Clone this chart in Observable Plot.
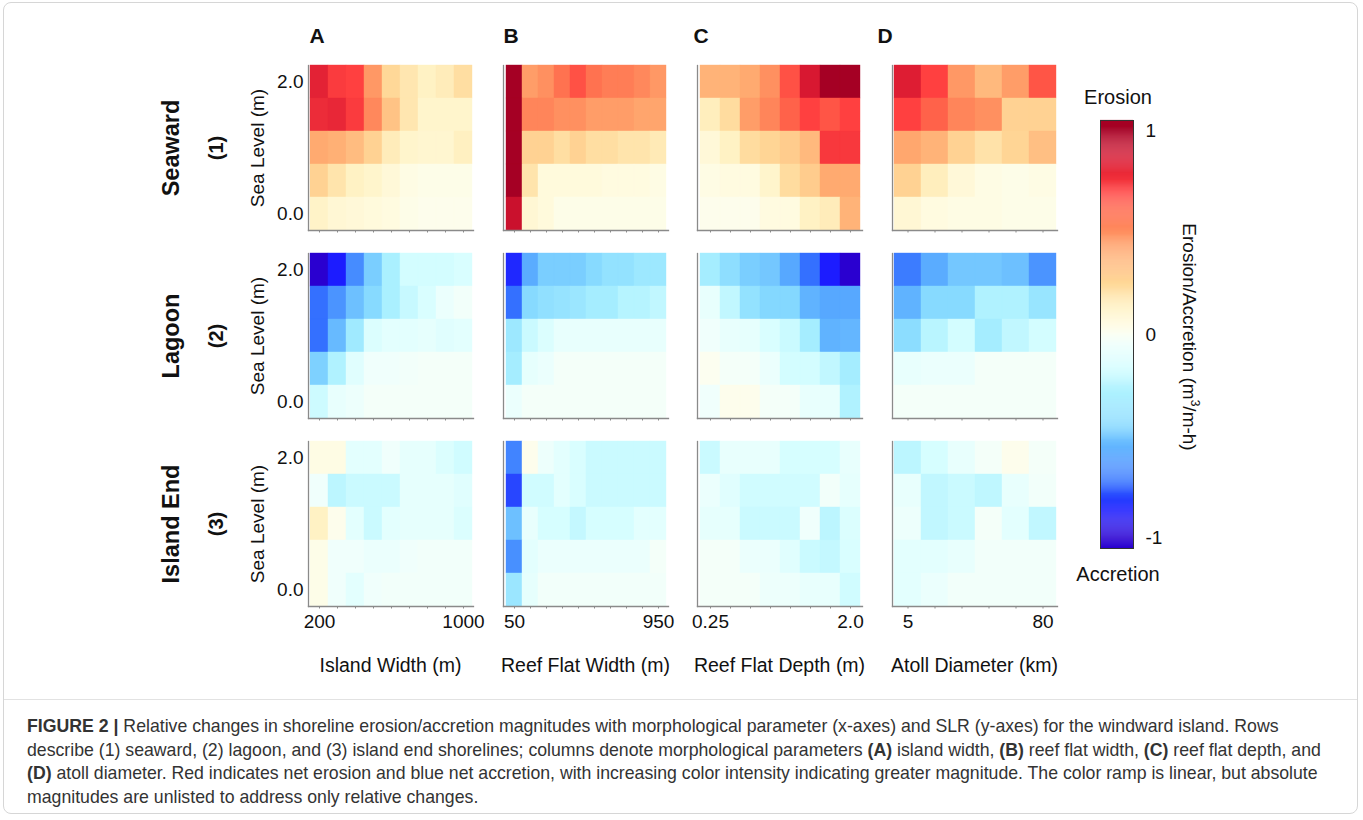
<!DOCTYPE html>
<html>
<head>
<meta charset="utf-8">
<script src="https://cdn.jsdelivr.net/npm/d3@7"></script>
<script src="https://cdn.jsdelivr.net/npm/@observablehq/plot@0.6"></script>
<style>
  html, body { margin: 0; padding: 0; background: #fff; }
  #fig { position: relative; width: 1363px; height: 820px; overflow: hidden; font-family: "Liberation Sans", Arial, sans-serif; color: #111; }
  .abs { position: absolute; white-space: nowrap; }
  .rot { transform: translate(-50%, -50%) rotate(-90deg); }
  .rot90 { transform: translate(-50%, -50%) rotate(90deg); }
  .ctr { transform: translate(-50%, -50%); }
  #border { position: absolute; left: 3px; top: 2px; width: 1355px; height: 812px; border: 1px solid #d6d6d6; border-radius: 8px; box-sizing: border-box; }
  #sep { position: absolute; left: 4px; top: 699px; width: 1353px; height: 0; border-top: 1px solid #e2e2e2; }
  #caption { position: absolute; left: 27px; top: 715px; font-family: "Liberation Sans", Arial, sans-serif; font-size: 17.7px; line-height: 23.5px; color: #333; white-space: nowrap; }
</style>
</head>
<body>
<div id="fig">
  <div id="border"></div>
  <div id="sep"></div>
</div>
<script>
// ---------------- data ----------------
const seaLevels = [2.0, 1.5, 1.0, 0.5, 0.0]; // rows, top to bottom
const islandWidth = [200, 300, 400, 500, 600, 700, 800, 900, 1000];
const reefFlatWidth = [50, 150, 250, 350, 450, 550, 650, 750, 850, 950];
const reefFlatDepth = [0.25, 0.5, 0.75, 1.0, 1.25, 1.5, 1.75, 2.0];
const atollDiameter = [5, 10, 20, 40, 60, 80];
const colLetters = ["A", "B", "C", "D"];
const colTitles = ["Island Width (m)", "Reef Flat Width (m)", "Reef Flat Depth (m)", "Atoll Diameter (km)"];
const rowNames = ["Seaward", "Lagoon", "Island End"];
const rowNums = ["(1)", "(2)", "(3)"];
const xTickLabels = [["200", "1000"], ["50", "950"], ["0.25", "2.0"], ["5", "80"]];
const cbTicks = [1, 0, -1];

// relative erosion (+) / accretion (-), rows = seaLevels
const seawardA = [
  [0.82, 0.72, 0.70, 0.47, 0.25, 0.18, 0.12, 0.15, 0.22],
  [0.78, 0.80, 0.72, 0.52, 0.32, 0.18, 0.10, 0.10, 0.10],
  [0.40, 0.38, 0.34, 0.27, 0.15, 0.10, 0.09, 0.09, 0.13],
  [0.27, 0.19, 0.12, 0.10, 0.07, 0.04, 0.03, 0.03, 0.03],
  [0.11, 0.08, 0.07, 0.06, 0.05, 0.03, 0.02, 0.02, 0.02]
];
const seawardB = [
  [1.00, 0.45, 0.50, 0.58, 0.66, 0.58, 0.55, 0.55, 0.52, 0.47],
  [1.00, 0.53, 0.53, 0.50, 0.50, 0.45, 0.45, 0.45, 0.42, 0.42],
  [1.00, 0.27, 0.27, 0.22, 0.27, 0.22, 0.22, 0.19, 0.19, 0.16],
  [1.00, 0.19, 0.06, 0.06, 0.06, 0.06, 0.05, 0.05, 0.05, 0.04],
  [0.90, 0.08, 0.06, 0.03, 0.03, 0.03, 0.03, 0.03, 0.03, 0.03]
];
const seawardC = [
  [0.37, 0.37, 0.40, 0.50, 0.66, 0.86, 1.00, 1.00],
  [0.14, 0.23, 0.45, 0.53, 0.62, 0.70, 0.65, 0.70],
  [0.07, 0.12, 0.23, 0.26, 0.29, 0.35, 0.73, 0.73],
  [0.04, 0.05, 0.05, 0.10, 0.23, 0.29, 0.40, 0.40],
  [0.02, 0.02, 0.02, 0.05, 0.05, 0.12, 0.15, 0.37]
];
const seawardD = [
  [0.84, 0.70, 0.47, 0.35, 0.45, 0.65],
  [0.70, 0.62, 0.53, 0.50, 0.27, 0.27],
  [0.41, 0.37, 0.27, 0.20, 0.26, 0.33],
  [0.27, 0.14, 0.07, 0.04, 0.03, 0.04],
  [0.08, 0.05, 0.04, 0.04, 0.03, 0.03]
];
const lagoonA = [
  [-1.00, -0.87, -0.66, -0.48, -0.30, -0.16, -0.16, -0.16, -0.14],
  [-0.73, -0.64, -0.52, -0.44, -0.30, -0.20, -0.14, -0.07, -0.04],
  [-0.73, -0.54, -0.34, -0.13, -0.10, -0.10, -0.09, -0.11, -0.10],
  [-0.47, -0.28, -0.11, -0.05, -0.05, -0.04, -0.03, -0.03, -0.03],
  [-0.18, -0.08, -0.06, -0.03, -0.03, -0.03, -0.03, -0.03, -0.03]
];
const lagoonB = [
  [-0.85, -0.58, -0.48, -0.48, -0.48, -0.44, -0.39, -0.39, -0.35, -0.35],
  [-0.73, -0.44, -0.40, -0.38, -0.36, -0.32, -0.32, -0.26, -0.26, -0.22],
  [-0.35, -0.19, -0.13, -0.08, -0.08, -0.08, -0.08, -0.08, -0.08, -0.08],
  [-0.32, -0.09, -0.07, -0.03, -0.03, -0.03, -0.03, -0.03, -0.03, -0.03],
  [-0.07, -0.03, -0.03, -0.03, -0.03, -0.03, -0.03, -0.03, -0.03, -0.03]
];
const lagoonC = [
  [-0.32, -0.41, -0.48, -0.50, -0.59, -0.73, -0.87, -1.00],
  [-0.08, -0.22, -0.39, -0.45, -0.45, -0.56, -0.59, -0.59],
  [-0.05, -0.08, -0.09, -0.14, -0.19, -0.32, -0.56, -0.55],
  [0.01, -0.03, -0.03, -0.07, -0.16, -0.16, -0.22, -0.32],
  [-0.05, 0.02, 0.02, -0.03, -0.03, -0.08, -0.08, -0.28]
];
const lagoonD = [
  [-0.70, -0.58, -0.50, -0.50, -0.52, -0.64],
  [-0.56, -0.44, -0.44, -0.28, -0.28, -0.37],
  [-0.42, -0.25, -0.16, -0.32, -0.22, -0.16],
  [-0.08, -0.07, -0.07, -0.03, -0.03, -0.03],
  [-0.03, -0.03, -0.03, -0.03, -0.03, -0.03]
];
const islandEndA = [
  [0.04, 0.04, -0.10, -0.10, -0.05, -0.09, -0.09, -0.13, -0.17],
  [-0.05, -0.24, -0.19, -0.19, -0.19, -0.09, -0.09, -0.09, -0.11],
  [0.12, 0.02, -0.10, -0.19, -0.10, -0.09, -0.09, -0.09, -0.13],
  [0.03, -0.05, -0.05, -0.07, -0.07, -0.05, -0.04, -0.04, -0.04],
  [0.03, -0.05, -0.10, -0.05, -0.04, -0.04, -0.04, -0.04, -0.04]
];
const islandEndB = [
  [-0.68, 0.02, -0.06, -0.10, -0.14, -0.19, -0.19, -0.19, -0.19, -0.19],
  [-0.80, -0.17, -0.17, -0.10, -0.14, -0.19, -0.19, -0.19, -0.19, -0.19],
  [-0.52, -0.08, -0.15, -0.15, -0.21, -0.15, -0.15, -0.15, -0.10, -0.10],
  [-0.65, -0.10, -0.07, -0.07, -0.07, -0.07, -0.07, -0.07, -0.07, -0.03],
  [-0.36, -0.09, -0.04, -0.04, -0.04, -0.04, -0.04, -0.04, -0.04, -0.04]
];
const islandEndC = [
  [-0.19, -0.08, -0.08, -0.08, -0.15, -0.15, -0.15, -0.08],
  [-0.07, -0.11, -0.17, -0.17, -0.17, -0.17, -0.04, -0.09],
  [-0.09, -0.09, -0.19, -0.19, -0.19, -0.05, -0.24, -0.13],
  [-0.03, -0.03, -0.07, -0.07, -0.11, -0.19, -0.21, -0.14],
  [-0.03, -0.03, -0.03, -0.06, -0.06, -0.08, -0.08, -0.17]
];
const islandEndD = [
  [-0.24, -0.15, -0.08, -0.03, 0.02, -0.03],
  [-0.08, -0.22, -0.19, -0.23, -0.08, -0.04],
  [-0.06, -0.22, -0.19, -0.03, -0.10, -0.22],
  [-0.10, -0.10, -0.08, -0.04, -0.04, -0.04],
  [-0.10, -0.07, -0.04, -0.04, -0.04, -0.04]
];

// diverging colour ramp (blue = accretion, red = erosion)
const rampDomain = [-1.0, -0.87, -0.73, -0.58, -0.45, -0.3, -0.15, -0.05, 0, 0.05, 0.12, 0.25, 0.4, 0.5, 0.6, 0.7, 0.85, 1.0];
const rampColors = ["#2a00d0", "#1c1cff", "#3470ff", "#5aacff", "#84d8ff", "#aaf0ff", "#d6feff", "#f0fffc", "#fbfff4", "#fffbe0", "#fff2c4", "#ffd898", "#ffaa70", "#ff9060", "#ff6a4c", "#ff4040", "#dc1a32", "#a50024"];

// ---------------- layout ----------------
const panelLeft = [308, 503, 697, 892];
const panelTop = [65, 253, 441];
const PW = 165, PH = 165;
const grid = [
  [seawardA, seawardB, seawardC, seawardD],
  [lagoonA, lagoonB, lagoonC, lagoonD],
  [islandEndA, islandEndB, islandEndC, islandEndD]
];
const xCats = [islandWidth, reefFlatWidth, reefFlatDepth, atollDiameter];

const fig = document.getElementById("fig");
const colorOpts = { type: "linear", domain: rampDomain, range: rampColors, clamp: true };
const FONT = "'Liberation Sans', Arial, sans-serif";

function addAbs(el, left, top) {
  el.style.position = "absolute";
  el.style.left = left + "px";
  el.style.top = top + "px";
  fig.appendChild(el);
}
function addText(text, x, y, cls, css) {
  const d = document.createElement("div");
  d.className = "abs " + cls;
  d.innerHTML = text;
  d.style.left = x + "px";
  d.style.top = y + "px";
  Object.assign(d.style, css || {});
  fig.appendChild(d);
}

const ML = 50, MR = 30, MT = 4, MB = 40;
for (let r = 0; r < 3; r++) {
  for (let c = 0; c < 4; c++) {
    const xs = xCats[c];
    const vals = grid[r][c];
    const data = [];
    vals.forEach((row, i) => row.forEach((v, j) => data.push({ x: xs[j], y: seaLevels[i], v })));
    const marks = [
      Plot.cell(data, { x: "x", y: "y", fill: "v", stroke: "v", strokeWidth: 0.4, inset: 0 }),
      Plot.axisX({ ticks: xs, tickSize: 2.5, tickFormat: () => "", label: null, stroke: "#8a8a8a" }),
      Plot.frame({ anchor: "bottom", stroke: "#8a8a8a", strokeWidth: 1.3 }),
      Plot.frame({ anchor: "left", stroke: "#8a8a8a", strokeWidth: 1.3 })
    ];
    if (r === 2) {
      marks.push(Plot.axisX({ ticks: [xs[0], xs[xs.length - 1]], tickSize: 0, tickPadding: 8, fontSize: 19, label: null,
        tickFormat: d => (d === xs[0] ? xTickLabels[c][0] : xTickLabels[c][1]), fill: "#111" }));
    }
    if (c === 0) {
      marks.push(Plot.axisY({ ticks: [2.0, 0.0], tickSize: 0, tickPadding: 5, fontSize: 19, label: null,
        tickFormat: d => d.toFixed(1), fill: "#111" }));
    }
    const p = Plot.plot({
      width: PW + ML + MR, height: PH + MT + MB,
      marginLeft: ML, marginRight: MR, marginTop: MT, marginBottom: MB,
      style: { background: "transparent", overflow: "visible", fontFamily: FONT },
      x: { type: "band", domain: xs, padding: 0, axis: null },
      y: { type: "band", domain: seaLevels, padding: 0, axis: null },
      color: colorOpts,
      marks
    });
    addAbs(p, panelLeft[c] - ML, panelTop[r] - MT);
  }
}

// colour bar
const cbStripes = d3.range(-1.05, 1.05, 0.005).map(t => ({ y1: t, y2: t + 0.0055, v: t + 0.0025 }));
const cb = Plot.plot({
  width: 33 + 50, height: 428,
  marginLeft: 0, marginRight: 50, marginTop: 0, marginBottom: 0,
  style: { background: "transparent", overflow: "visible", fontFamily: FONT },
  x: { domain: [0, 1], axis: null },
  y: { domain: [-1.05, 1.05], axis: null },
  color: colorOpts,
  marks: [
    Plot.rect(cbStripes, { x1: 0, x2: 1, y1: "y1", y2: "y2", fill: "v" }),
    Plot.frame({ stroke: "#333", strokeWidth: 1 }),
    Plot.axisY({ anchor: "right", ticks: cbTicks, tickSize: 0, tickPadding: 12, fontSize: 19, label: null,
      tickFormat: d => String(d), textAnchor: "start", fill: "#111" })
  ]
});
addAbs(cb, 1100, 120);

// column letters and x titles
const letterX = [317, 511, 701, 885];
colLetters.forEach((L, c) => addText(L, letterX[c], 36, "ctr", { fontSize: "21px", fontWeight: "bold" }));
colTitles.forEach((t, c) => addText(t, panelLeft[c] + PW / 2, 665, "ctr", { fontSize: "19.5px" }));

// row labels
rowNames.forEach((n, r) => {
  const cy = panelTop[r] + PH / 2;
  addText(n, 171, cy, "rot", { fontSize: "23.5px", fontWeight: "bold" });
  addText(rowNums[r], 216, cy, "rot", { fontSize: "20px", fontWeight: "bold" });
  addText("Sea Level (m)", 258, cy, "rot", { fontSize: "19px" });
});

// colour bar labels
addText("Erosion", 1118, 97, "ctr", { fontSize: "20px" });
addText("Accretion", 1118, 574, "ctr", { fontSize: "20px" });
addText("Erosion/Accretion (m<sup style='font-size:12px'>3</sup>/m-h)", 1190, 337, "rot90", { fontSize: "19px" });

// caption
const cap = document.createElement("div");
cap.id = "caption";
cap.innerHTML = "<b>FIGURE 2 |</b> Relative changes in shoreline erosion/accretion magnitudes with morphological parameter (x-axes) and SLR (y-axes) for the windward island. Rows<br>" +
  "describe (1) seaward, (2) lagoon, and (3) island end shorelines; columns denote morphological parameters <b>(A)</b> island width, <b>(B)</b> reef flat width, <b>(C)</b> reef flat depth, and<br>" +
  "<b>(D)</b> atoll diameter. Red indicates net erosion and blue net accretion, with increasing color intensity indicating greater magnitude. The color ramp is linear, but absolute<br>" +
  "magnitudes are unlisted to address only relative changes.";
fig.appendChild(cap);
</script>
</body>
</html>
